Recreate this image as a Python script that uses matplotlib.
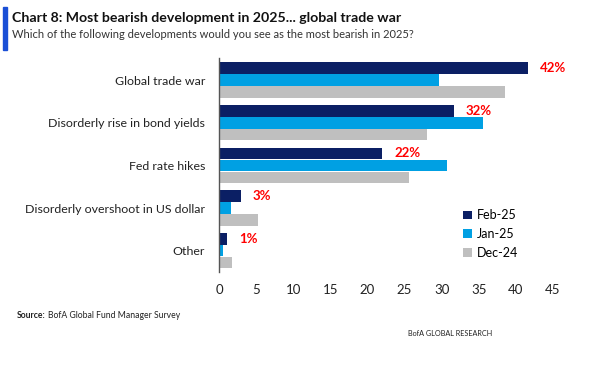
import matplotlib.pyplot as plt
import numpy as np
from matplotlib.patches import Rectangle

categories = ['Global trade war', 'Disorderly rise in bond yields', 'Fed rate hikes',
              'Disorderly overshoot in US dollar', 'Other']
feb25 = [41.6, 31.6, 22.0, 2.9, 1.1]
jan25 = [29.6, 35.6, 30.7, 1.6, 0.5]
dec24 = [38.5, 28.0, 25.6, 5.3, 1.8]
series_names = ['Feb-25', 'Jan-25', 'Dec-24']
xticks = [0, 5, 10, 15, 20, 25, 30, 35, 40, 45]

navy = '#0b1f64'
blue = '#00a0e3'
grey = '#bfbfbf'

plt.rcParams['font.family'] = ['Lato', 'DejaVu Sans']

W, H = 591, 370
fig = plt.figure(figsize=(W / 100, H / 100), dpi=100)
ax = fig.add_axes([219 / W, 1 - 272 / H, (553 - 219) / W, (272 - 58) / H])

y = np.arange(len(categories))
h = 0.27
ax.barh(y - 0.28, feb25, height=h, color=navy, label=series_names[0])
ax.barh(y, jan25, height=h, color=blue, label=series_names[1])
ax.barh(y + 0.28, dec24, height=h, color=grey, label=series_names[2])

for yi, v in zip(y, feb25):
    ax.annotate(f'{v:.0f}%', (v, yi - 0.28), xytext=(9, 0), textcoords='offset points',
                va='center', ha='left', color='#ff0000', fontweight='bold', fontsize=9.5)

ax.set_xlim(0, 45)
ax.set_ylim(4.5, -0.52)
ax.set_xticks(xticks)
ax.set_yticks(y)
ax.set_yticklabels(categories, fontsize=8.9, color='#222222')
ax.tick_params(axis='both', length=0)
ax.tick_params(axis='y', pad=10)
ax.tick_params(axis='x', pad=9, labelsize=9.5, labelcolor='#222222')
for s in ['top', 'right', 'bottom']:
    ax.spines[s].set_visible(False)
ax.spines['left'].set_color('#555555')
ax.spines['left'].set_linewidth(1.0)

ax.legend(loc='upper left', bbox_to_anchor=(452 / W, 1 - 198 / H), bbox_transform=fig.transFigure,
          frameon=False, fontsize=9, handlelength=0.7, handleheight=0.7, handletextpad=0.4,
          labelspacing=0.55)

# header
fig.patches.append(Rectangle((3 / W, 1 - 50 / H), 4 / W, 43 / H, transform=fig.transFigure,
                              color='#1a4fd6', figure=fig))
fig.text(12 / W, 1 - 18 / H, 'Chart 8: Most bearish development in 2025... global trade war',
         fontsize=10.2, fontweight='bold', va='center', ha='left', color='#111111')
fig.text(12 / W, 1 - 34 / H, 'Which of the following developments would you see as the most bearish in 2025?',
         fontsize=8, va='center', ha='left', color='#333333')

# footer
t = fig.text(17 / W, 1 - 316 / H, 'Source:', fontsize=6.2, fontweight='bold',
             va='center', ha='left', color='#222222')
fig.canvas.draw()
bb = t.get_window_extent()
fig.text(bb.x1 / W + 2 / W, 1 - 316 / H, 'BofA Global Fund Manager Survey', fontsize=6.2,
         va='center', ha='left', color='#222222')
fig.text(492 / W, 1 - 333 / H, 'BofA GLOBAL RESEARCH', fontsize=5.2,
         va='center', ha='right', color='#222222')

fig.savefig('out.png', dpi=100)
